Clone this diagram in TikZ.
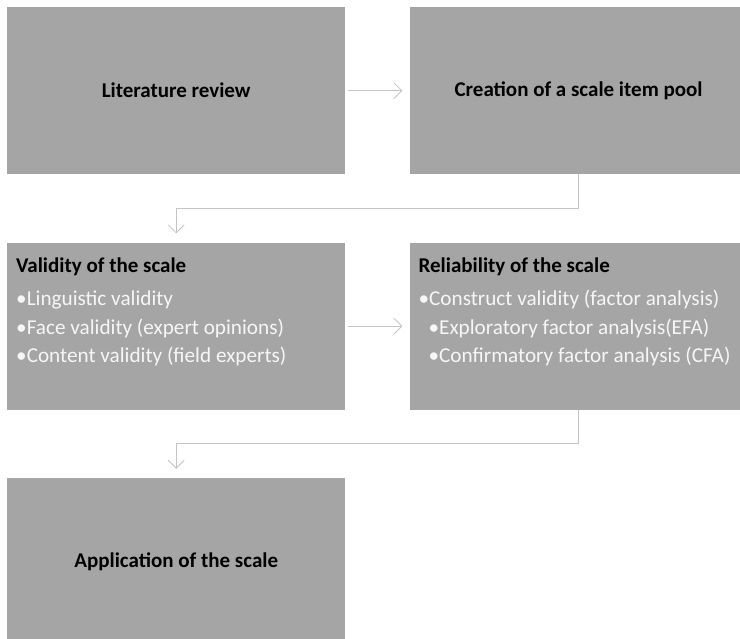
\documentclass[tikz,border=0pt]{standalone}
\usepackage{fontspec}
\setmainfont{Carlito}
\usetikzlibrary{arrows.meta,positioning}
\definecolor{boxgrey}{RGB}{165,165,165}
\definecolor{linkgrey}{RGB}{196,196,196}
\definecolor{itemwhite}{RGB}{246,246,246}
\newcommand{\stagehead}[1]{{\fontsize{21}{25}\selectfont\bfseries #1\par}\vspace{5pt}}
\newcommand{\stageitem}[2][0pt]{{\color{itemwhite}\fontsize{21.2}{28.5}\selectfont\hspace*{#1}•#2\par}}
\newcommand{\stagelist}[1]{\parbox[c][167pt][t]{320pt}{\raggedright\vspace*{15pt}#1}}

\begin{document}
\begin{tikzpicture}[
    x=1pt,y=1pt,
    node distance=68pt and 64pt,
    stage/.style={fill=boxgrey,minimum width=338pt,minimum height=167pt,
      inner sep=0pt,align=center,font=\fontsize{21}{25}\selectfont\bfseries},
    liststage/.style={fill=boxgrey,minimum width=338pt,minimum height=167pt,
      inner xsep=9pt,inner ysep=0pt},
    flow/.style={-{Straight Barb[length=8pt,width=16pt]},draw=linkgrey,line width=0.8pt}
  ]
    \useasboundingbox (0,0) rectangle (740,-639);
    \node[stage,anchor=north west] (review) at (7,-7) {Literature review};
    \node[stage,right=of review] (pool) {Creation of a scale item pool};
    \node[liststage,below=of review] (validity) {\stagelist{%
      \stagehead{Validity of the scale}
      \stageitem{Linguistic validity}
      \stageitem{Face validity (expert opinions)}
      \stageitem{Content validity (field experts)}}};
    \node[liststage,right=of validity] (reliability) {\stagelist{%
      \stagehead{Reliability of the scale}
      \stageitem{Construct validity (factor analysis)}
      \stageitem[10pt]{Exploratory factor analysis(EFA)}
      \stageitem[10pt]{Confirmatory factor analysis (CFA)}}};
    \node[stage,below=of validity] (application) {Application of the scale};
    \draw[flow,shorten <=3pt,shorten >=7pt] (review) -- (pool);
    \draw[flow,shorten >=9pt] (pool.south) -- ++(0,-34) -| (validity.north);
    \draw[flow,shorten <=3pt,shorten >=7pt] (validity) -- (reliability);
    \draw[flow,shorten >=9pt] (reliability.south) -- ++(0,-34) -| (application.north);
  \end{tikzpicture}
\end{document}
